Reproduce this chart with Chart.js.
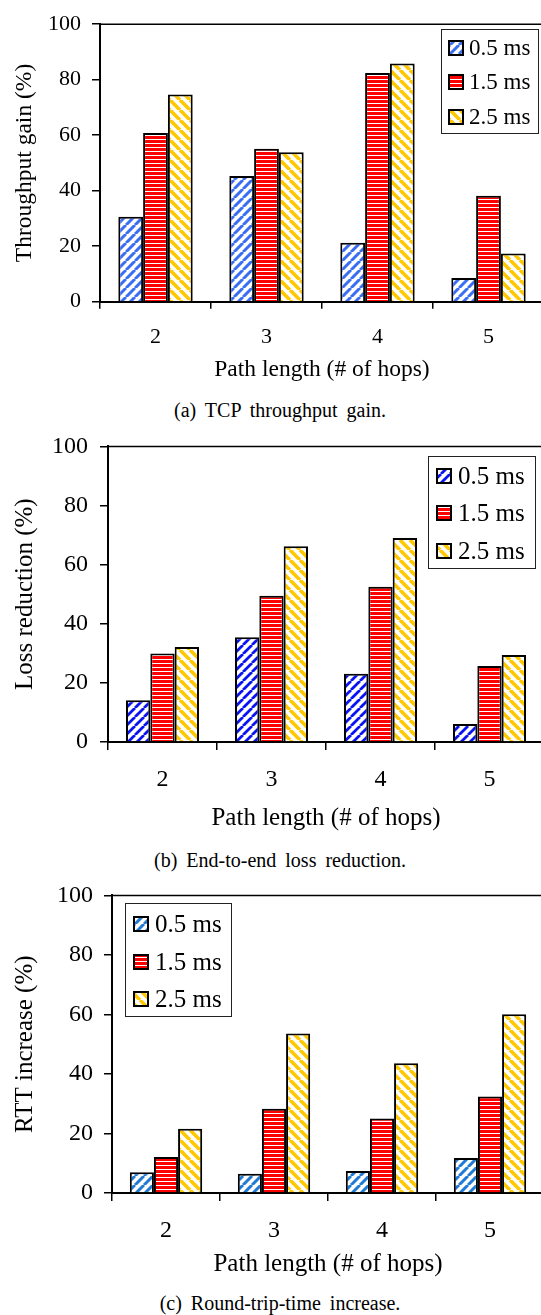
<!DOCTYPE html>
<html>
<head>
<meta charset="utf-8">
<script src="https://cdn.jsdelivr.net/npm/chart.js@4.4.1/dist/chart.umd.min.js"></script>
<style>
  html, body { margin: 0; padding: 0; background: #fff; overflow: hidden; width: 541px; height: 1315px; }
  .box { position: absolute; left: 0; }
  .cap { position: absolute; left: 0; width: 560px; text-align: center; font-family: 'Liberation Serif', serif;
         font-size: 20px; line-height: 24px; word-spacing: 4px; color: #000; }
</style>
</head>
<body>
<div class="box" style="top:0"><canvas id="c1" width="546" height="392"></canvas></div>
<div class="cap" style="top:398px">(a) TCP throughput gain.</div>
<div class="box" style="top:420px"><canvas id="c2" width="546" height="420"></canvas></div>
<div class="cap" style="top:848px">(b) End-to-end loss reduction.</div>
<div class="box" style="top:870px"><canvas id="c3" width="546" height="410"></canvas></div>
<div class="cap" style="top:1291px">(c) Round-trip-time increase.</div>

<script>
// data
const hops = ['2', '3', '4', '5'];
const delays = ['0.5 ms', '1.5 ms', '2.5 ms'];
const yTicks = [0, 20, 40, 60, 80, 100];

const gain05 = [30.6, 45.3, 21.2, 8.5];
const gain15 = [60.8, 55.1, 82.4, 38.2];
const gain25 = [74.7, 53.9, 85.8, 17.4];

const loss05 = [14.1, 35.4, 23.1, 6.1];
const loss15 = [29.9, 49.5, 52.5, 25.7];
const loss25 = [32.1, 66.2, 69.0, 29.4];

const rtt05 = [7.0, 6.5, 7.4, 11.8];
const rtt15 = [12.1, 28.3, 25.0, 32.4];
const rtt25 = [21.6, 53.6, 43.6, 60.1];

const FONT = "'Liberation Serif'";

// stripe fills
function diag(color, dir, size, lw) {
  const t = document.createElement('canvas');
  t.width = size; t.height = size;
  const g = t.getContext('2d');
  g.fillStyle = '#fff';
  g.fillRect(0, 0, size, size);
  g.strokeStyle = color;
  g.lineWidth = lw;
  g.beginPath();
  for (const k of [-size, 0, size]) {
    if (dir === '/') { g.moveTo(k, size); g.lineTo(k + size, 0); }
    else { g.moveTo(k, 0); g.lineTo(k + size, size); }
  }
  g.stroke();
  return g.createPattern(t, 'repeat');
}

function hstripe(color, period, white) {
  const t = document.createElement('canvas');
  t.width = 4; t.height = period;
  const g = t.getContext('2d');
  g.fillStyle = color;
  g.fillRect(0, 0, 4, period);
  g.fillStyle = '#fff';
  g.fillRect(0, period - white, 4, white);
  return g.createPattern(t, 'repeat');
}

// top frame line + legend box
const framePlugin = {
  id: 'frame',
  afterDraw(chart, args, opts) {
    const { ctx, chartArea: a } = chart;
    ctx.save();
    ctx.strokeStyle = '#000';
    ctx.lineWidth = 1.5;
    ctx.beginPath();
    ctx.moveTo(a.left, a.top);
    ctx.lineTo(a.right, a.top);
    ctx.stroke();

    const L = opts.legend;
    ctx.fillStyle = '#fff';
    ctx.fillRect(L.x, L.y, L.w, L.h);
    ctx.lineWidth = 1;
    ctx.strokeStyle = '#222';
    ctx.strokeRect(L.x + 0.5, L.y + 0.5, L.w, L.h);
    ctx.font = L.font + 'px ' + FONT;
    ctx.textBaseline = 'middle';
    ctx.textAlign = 'left';
    chart.data.datasets.forEach((ds, i) => {
      const cy = L.rows[i];
      ctx.fillStyle = ds.backgroundColor;
      ctx.fillRect(L.sx, cy - L.s / 2, L.s, L.s);
      ctx.lineWidth = 2;
      ctx.strokeStyle = '#000';
      ctx.strokeRect(L.sx + 1, cy - L.s / 2 + 1, L.s - 2, L.s - 2);
      ctx.fillStyle = '#000';
      ctx.fillText(ds.label, L.tx, cy + 1);
    });
    ctx.restore();
  }
};

function makeChart(id, title, series, look) {
  const fills = [
    diag(look.blue, '/', 9, look.blueW),
    hstripe('#ff0000', 4, 1),
    diag('#ffc800', '\\', 10, 3.6)
  ];
  return new Chart(document.getElementById(id), {
    type: 'bar',
    data: {
      labels: hops,
      datasets: series.map((vals, i) => ({
        label: delays[i],
        data: vals,
        backgroundColor: fills[i],
        borderColor: '#000',
        borderWidth: 2,
        borderSkipped: 'start',
        categoryPercentage: 0.67,
        barPercentage: 1
      }))
    },
    options: {
      responsive: false,
      animation: false,
      devicePixelRatio: 1,
      layout: { autoPadding: false, padding: { top: look.top, right: 2, left: 0, bottom: 0 } },
      plugins: {
        legend: { display: false },
        tooltip: { enabled: false },
        frame: { legend: look.legend }
      },
      scales: {
        x: {
          afterFit: s => { s.height = look.xh; },
          grid: { offset: true, drawOnChartArea: false, drawTicks: true, tickLength: look.tl, color: '#000', lineWidth: 1.5 },
          border: { display: true, color: '#000', width: 2 },
          ticks: { color: '#000', padding: look.xpad, font: { family: FONT, size: look.tick } },
          title: { display: true, text: 'Path length (# of hops)', color: '#000',
                   font: { family: FONT, size: look.title }, padding: { top: 0, bottom: look.xtpad } }
        },
        y: {
          min: 0, max: 100,
          afterFit: s => { s.width = look.left; },
          afterBuildTicks: s => { s.ticks = yTicks.map(v => ({ value: v })); },
          grid: { drawOnChartArea: false, drawTicks: true, tickLength: 8, color: '#000', lineWidth: 1.5 },
          border: { display: true, color: '#000', width: 2 },
          ticks: { color: '#000', padding: look.ypad, font: { family: FONT, size: look.tick } },
          title: { display: true, text: title, color: '#000',
                   font: { family: FONT, size: look.title }, padding: { top: look.ytpad, bottom: 0 } }
        }
      }
    },
    plugins: [framePlugin]
  });
}

makeChart('c1', 'Throughput gain (%)', [gain05, gain15, gain25], {
  blue: '#3a6ef2', blueW: 3,
  top: 18.3, left: 100, xh: 90.3, tl: 7, xpad: 15, xtpad: 8, ypad: 11, ytpad: 11,
  tick: 22, title: 23.5,
  legend: { x: 441, y: 29, w: 97, h: 104, sx: 448, s: 16, tx: 469, font: 23, rows: [48, 82, 117] }
});

makeChart('c2', 'Loss reduction (%)', [loss05, loss15, loss25], {
  blue: '#0a14f0', blueW: 2.8,
  top: 25, left: 108, xh: 98, tl: 8, xpad: 15.6, xtpad: 7, ypad: 12, ytpad: 10,
  tick: 24, title: 25,
  legend: { x: 428, y: 36, w: 107, h: 112, sx: 436, s: 16, tx: 458, font: 25, rows: [56, 93, 131] }
});

makeChart('c3', 'RTT increase (%)', [rtt05, rtt15, rtt25], {
  blue: '#1e7ad2', blueW: 3,
  top: 24, left: 112, xh: 87, tl: 8, xpad: 15.6, xtpad: 1, ypad: 11, ytpad: 10,
  tick: 24, title: 25,
  legend: { x: 125, y: 33, w: 106, h: 113, sx: 133, s: 16, tx: 155, font: 25, rows: [54, 92, 129] }
});
</script>
</body>
</html>
